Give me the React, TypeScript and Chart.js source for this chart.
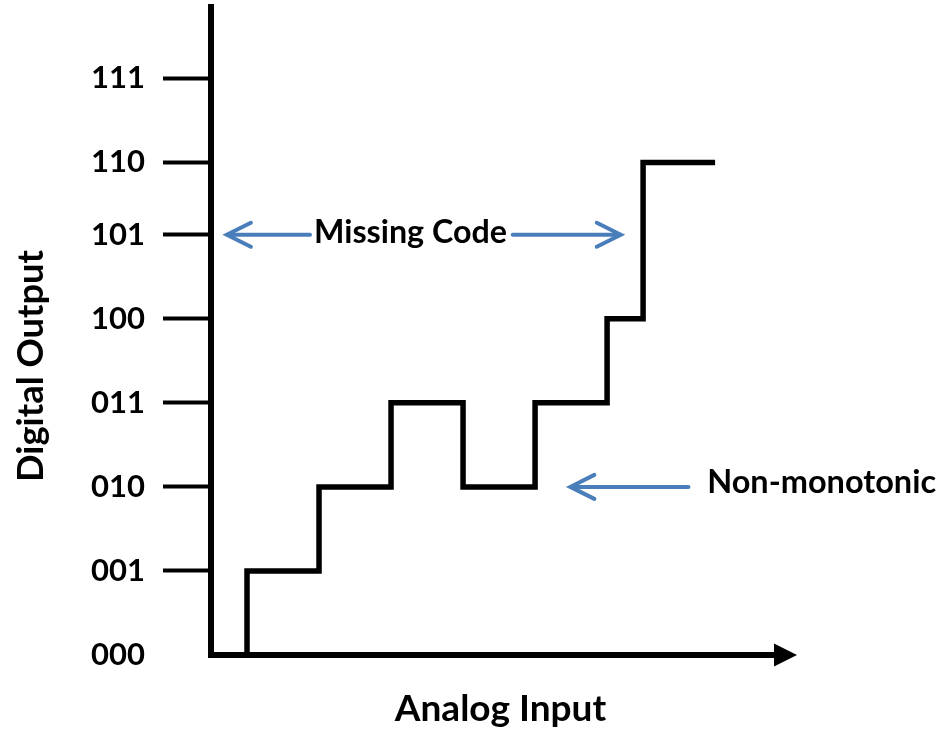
import React, { useEffect, useRef } from 'react';
import { Chart, registerables } from 'chart.js';

Chart.register(...registerables);

// ---- data ----
const codeLabels = ['000', '001', '010', '011', '100', '101', '110', '111'];
// where each code sits on the vertical axis as drawn (110 / 111 are drawn lower than evenly spaced)
const codeLevels = [0, 1, 2, 3, 4, 5, 5.86, 6.86];
// analog input values at which the output code changes
const stepEdges = [0.5, 1.5, 2.5, 3.5, 4.5, 5.5, 6];
// output code (index into codeLabels) after each change
const stepCodes = [1, 2, 3, 2, 3, 4, 6];
const inputEnd = 7;

const xTitle = 'Analog Input';
const yTitle = 'Digital Output';
const missingLabel = 'Missing Code';
const nonMonoLabel = 'Non-monotonic';

const FONT = 'Lato, "Noto Sans", sans-serif';
const BLUE = '#4A7EBB';

function buildPoints() {
  const pts: { x: number; y: number }[] = [{ x: stepEdges[0], y: codeLevels[0] }];
  for (let i = 0; i < stepEdges.length; i++) {
    const lvl = codeLevels[stepCodes[i]];
    pts.push({ x: stepEdges[i], y: lvl });
    const next = i + 1 < stepEdges.length ? stepEdges[i + 1] : inputEnd;
    pts.push({ x: next, y: lvl });
  }
  return pts;
}

// choose a bold font size so that the text spans the given width
function fitFont(ctx: CanvasRenderingContext2D, text: string, width: number) {
  ctx.font = `bold 40px ${FONT}`;
  const w = ctx.measureText(text).width;
  const size = (40 * width) / w;
  ctx.font = `bold ${size.toFixed(2)}px ${FONT}`;
}

function drawArrow(ctx: CanvasRenderingContext2D, xFrom: number, xTip: number, y: number) {
  const dir = xFrom > xTip ? 1 : -1;
  ctx.save();
  ctx.strokeStyle = BLUE;
  ctx.lineWidth = 4;
  ctx.lineCap = 'round';
  ctx.lineJoin = 'miter';
  ctx.beginPath();
  ctx.moveTo(xFrom, y);
  ctx.lineTo(xTip + dir * 2, y);
  ctx.stroke();
  ctx.beginPath();
  ctx.moveTo(xTip + dir * 24, y - 12);
  ctx.lineTo(xTip, y);
  ctx.lineTo(xTip + dir * 24, y + 12);
  ctx.stroke();
  ctx.restore();
}

const annotationPlugin = {
  id: 'diagramAnnotations',
  afterDraw(chart: any) {
    const { ctx } = chart;
    const xs = chart.scales.x;
    const ys = chart.scales.y;
    const y0 = ys.getPixelForValue(0);

    ctx.save();
    // square off the axes corner
    ctx.fillStyle = '#000';
    ctx.fillRect(xs.left - 3, y0 - 3, 6, 6);
    // arrow head of the horizontal axis
    const tip = xs.right + 7;
    ctx.beginPath();
    ctx.moveTo(tip, y0);
    ctx.lineTo(tip - 23, y0 - 11.5);
    ctx.lineTo(tip - 23, y0 + 11.5);
    ctx.closePath();
    ctx.fill();

    // vertical axis title
    ctx.save();
    ctx.translate(31, 366);
    ctx.rotate(-Math.PI / 2);
    fitFont(ctx, yTitle, 232);
    ctx.fillStyle = '#000';
    ctx.textAlign = 'center';
    ctx.textBaseline = 'middle';
    ctx.fillText(yTitle, 0, 0);
    ctx.restore();

    // Missing Code
    const yMiss = ys.getPixelForValue(codeLevels[5]);
    drawArrow(ctx, xs.getPixelForValue(1.375), xs.getPixelForValue(0.22), yMiss);
    drawArrow(ctx, xs.getPixelForValue(4.19), xs.getPixelForValue(5.69), yMiss);
    fitFont(ctx, missingLabel, 193);
    ctx.fillStyle = '#000';
    ctx.textAlign = 'center';
    ctx.textBaseline = 'middle';
    ctx.fillText(missingLabel, xs.getPixelForValue(2.77), yMiss - 2);

    // Non-monotonic
    const yNon = ys.getPixelForValue(codeLevels[2]);
    drawArrow(ctx, xs.getPixelForValue(6.63), xs.getPixelForValue(4.99), yNon);
    fitFont(ctx, nonMonoLabel, 229);
    ctx.textAlign = 'left';
    ctx.fillText(nonMonoLabel, xs.getPixelForValue(6.89), yNon - 4);
    ctx.restore();
  },
};

export default function App() {
  const canvasRef = useRef<HTMLCanvasElement | null>(null);

  useEffect(() => {
    if (!canvasRef.current) return;
    const chart = new Chart(canvasRef.current, {
      type: 'scatter',
      data: {
        datasets: [
          {
            data: buildPoints(),
            showLine: true,
            borderColor: '#000',
            borderWidth: 5.5,
            borderJoinStyle: 'miter',
            borderCapStyle: 'butt',
            pointRadius: 0,
            pointHoverRadius: 0,
            tension: 0,
          } as any,
        ],
      },
      options: {
        animation: false,
        responsive: true,
        maintainAspectRatio: false,
        events: [],
        layout: { padding: { top: 7, right: 944 - 790, left: 0, bottom: 0 } },
        plugins: { legend: { display: false }, tooltip: { enabled: false } },
        scales: {
          x: {
            type: 'linear',
            min: 0,
            max: 8.04,
            afterFit: (s: any) => {
              s.height = 76;
              s.paddingLeft = 0;
              s.paddingRight = 0;
            },
            ticks: { display: false },
            grid: { display: true, drawOnChartArea: false, drawTicks: false },
            border: { display: true, color: '#000', width: 6 },
            title: {
              display: true,
              text: xTitle,
              color: '#000',
              font: { family: FONT, size: 37, weight: 'bold' },
              padding: { top: 0, bottom: 0 },
            },
          },
          y: {
            type: 'linear',
            min: 0,
            max: 7.71,
            afterFit: (s: any) => {
              s.width = 211;
              s.paddingTop = 0;
              s.paddingBottom = 0;
            },
            afterBuildTicks: (s: any) => {
              s.ticks = codeLevels.map((v) => ({ value: v }));
            },
            ticks: {
              autoSkip: false,
              padding: 18,
              color: '#000',
              font: { family: FONT, size: 31, weight: 'bold' },
              callback: (_v: any, i: number) => codeLabels[i],
            },
            grid: {
              drawOnChartArea: false,
              drawTicks: true,
              tickLength: 48,
              tickWidth: 4,
              tickColor: (c: any) => (c.tick && c.tick.value === 0 ? 'rgba(0,0,0,0)' : '#000'),
            },
            border: { display: true, color: '#000', width: 6 },
          },
        },
      },
      plugins: [annotationPlugin],
    });
    return () => chart.destroy();
  }, []);

  return (
    <div style={{ position: 'absolute', left: 0, top: 0, width: 944, height: 731, background: '#fff' }}>
      <canvas ref={canvasRef} />
    </div>
  );
}
